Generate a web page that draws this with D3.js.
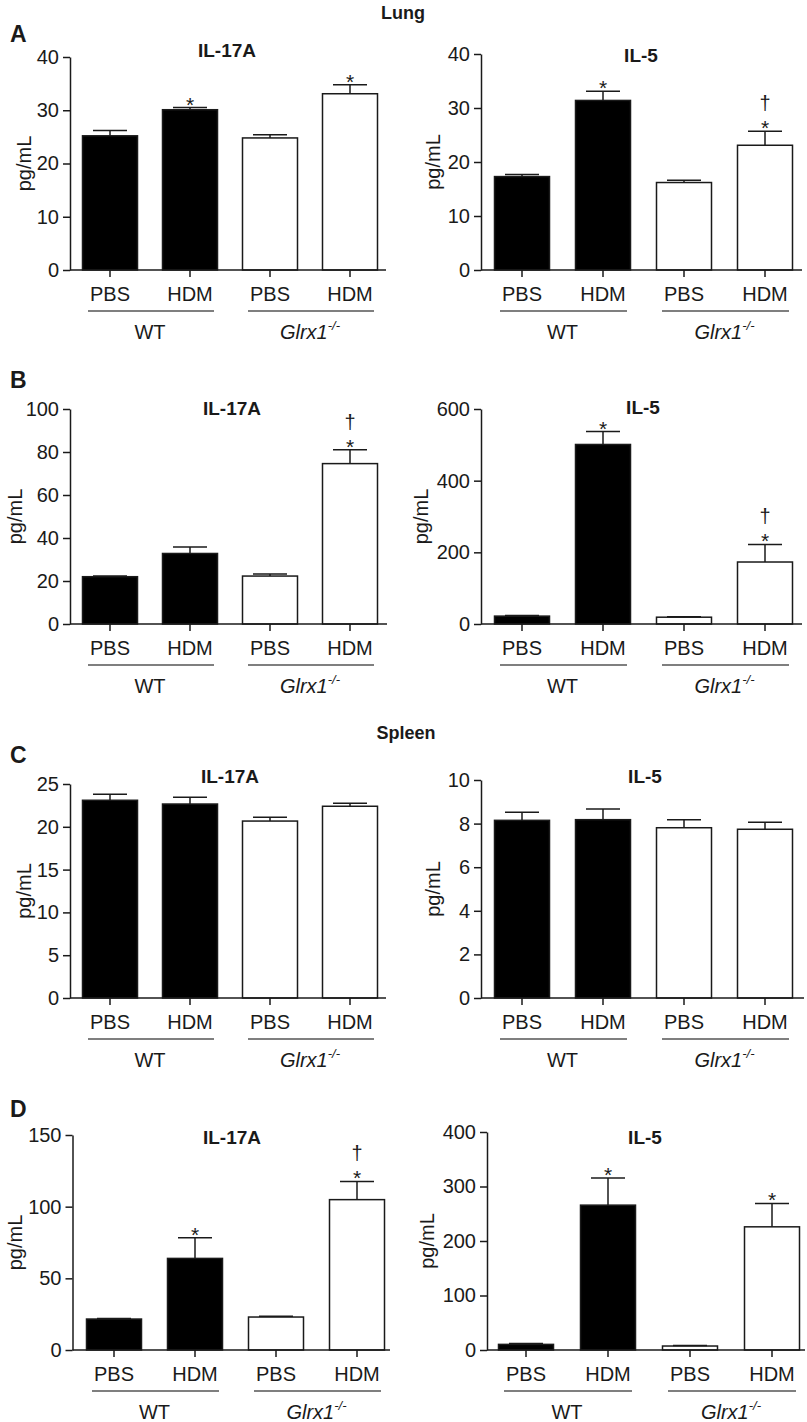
<!DOCTYPE html>
<html><head><meta charset="utf-8">
<script src="https://cdn.jsdelivr.net/npm/d3@7"></script>
<style>
body{margin:0;background:#fff}
svg{display:block;font-family:"Liberation Sans",Arial,Helvetica,sans-serif}
</style>
</head><body>
<svg id="c" width="807" height="1422"></svg>
<script>
// ---------- data ----------
const categories = ["PBS", "HDM", "PBS", "HDM"];
const genotypes = ["WT", "Glrx1"];
const barFill = ["#000", "#000", "#fff", "#fff"];

// A: Lung
const lungIL17A = [25.2, 30.1, 24.8, 33.1];
const lungIL17A_sem = [1.0, 0.4, 0.6, 1.7];
const lungIL17A_sig = ["", "*", "", "*"];
const lungIL5 = [17.3, 31.4, 16.2, 23.1];
const lungIL5_sem = [0.4, 1.7, 0.4, 2.6];
const lungIL5_sig = ["", "*", "", "*†"];
// B
const bIL17A = [22.0, 32.8, 22.3, 74.6];
const bIL17A_sem = [0.3, 3.0, 0.9, 6.4];
const bIL17A_sig = ["", "", "", "*†"];
const bIL5 = [22, 501, 19, 173];
const bIL5_sem = [1.5, 36, 1, 49];
const bIL5_sig = ["", "*", "", "*†"];
// C: Spleen
const spleenIL17A = [23.1, 22.66, 20.67, 22.4];
const spleenIL17A_sem = [0.7, 0.8, 0.45, 0.35];
const spleenIL17A_sig = ["", "", "", ""];
const spleenIL5 = [8.15, 8.18, 7.81, 7.74];
const spleenIL5_sem = [0.37, 0.49, 0.37, 0.32];
const spleenIL5_sig = ["", "", "", ""];
// D
const dIL17A = [21.6, 63.9, 23.0, 104.9];
const dIL17A_sem = [0.4, 14.4, 0.5, 12.7];
const dIL17A_sig = ["", "*", "", "*†"];
const dIL5 = [10.3, 265.8, 7.3, 226];
const dIL5_sem = [1.7, 50, 0.8, 43];
const dIL5_sig = ["", "*", "", "*"];

// tick labels
const ticksA = [0, 10, 20, 30, 40];
const ticksBL = [0, 20, 40, 60, 80, 100];
const ticksBR = [0, 200, 400, 600];
const ticksCL = [0, 5, 10, 15, 20, 25];
const ticksCR = [0, 2, 4, 6, 8, 10];
const ticksDL = [0, 50, 100, 150];
const ticksDR = [0, 100, 200, 300, 400];

// ---------- drawing ----------
const svg = d3.select("#c");
const INK = "#1a1a1a";
const FONT = "'Liberation Sans',Arial,Helvetica,sans-serif";

function panel(cfg) {
  const g = svg.append("g");
  const y = d3.scaleLinear().domain([0, cfg.ticks[cfg.ticks.length - 1]]).range([cfg.yZero, cfg.yTop]);
  const step = (cfg.xr[1] - cfg.xr[0]) / 4;
  const pi = 1 - 55 / step;
  const x = d3.scaleBand().domain(d3.range(4)).range(cfg.xr).paddingInner(pi).paddingOuter(pi / 2);
  const bw = x.bandwidth();
  const cx = i => x(i) + bw / 2;

  // bars
  g.selectAll("rect.bar").data(cfg.values).join("rect")
    .attr("x", (d, i) => x(i)).attr("width", bw)
    .attr("y", d => y(d)).attr("height", d => y(0) - y(d))
    .attr("fill", (d, i) => barFill[i]).attr("stroke", INK).attr("stroke-width", 1.5);

  // error bars
  const capW = 34;
  cfg.values.forEach((v, i) => {
    const top = y(v + cfg.sem[i]);
    g.append("line").attr("x1", cx(i)).attr("x2", cx(i)).attr("y1", y(v)).attr("y2", top)
      .attr("stroke", INK).attr("stroke-width", 1.5);
    g.append("line").attr("x1", cx(i) - capW / 2).attr("x2", cx(i) + capW / 2).attr("y1", top).attr("y2", top)
      .attr("stroke", INK).attr("stroke-width", 1.5);
    const s = cfg.sig[i];
    if (s.includes("*")) {
      g.append("text").attr("x", cx(i)).attr("y", top + 4).attr("text-anchor", "middle")
        .attr("font-size", 21).attr("fill", INK).text("*");
    }
    if (s.includes("†")) {
      g.append("text").attr("x", cx(i)).attr("y", top - 21).attr("text-anchor", "middle")
        .attr("font-size", 20).attr("fill", INK).text("†");
    }
  });

  // y axis
  const ya = g.append("g").attr("transform", `translate(${cfg.x0},0)`)
    .call(d3.axisLeft(y).tickValues(cfg.ticks).tickSize(7).tickSizeOuter(0).tickPadding(4));
  ya.select(".domain").attr("stroke", INK).attr("stroke-width", 1.5);
  ya.selectAll(".tick line").attr("stroke", INK).attr("stroke-width", 1.5);
  ya.selectAll(".tick text").attr("font-size", 20).attr("fill", INK).attr("font-family", FONT);

  // x axis
  g.append("line").attr("x1", cfg.x0).attr("x2", cfg.xEnd).attr("y1", cfg.yZero).attr("y2", cfg.yZero)
    .attr("stroke", INK).attr("stroke-width", 1.5);
  const xa = g.append("g").attr("transform", `translate(0,${cfg.yZero})`)
    .call(d3.axisBottom(x).tickSize(7).tickPadding(10).tickFormat(i => categories[i]));
  xa.select(".domain").remove();
  xa.selectAll(".tick line").attr("stroke", INK).attr("stroke-width", 1.5);
  xa.selectAll(".tick text").attr("font-size", 20).attr("fill", INK).attr("font-family", FONT);

  // group underlines and labels
  const uy = cfg.yZero + 41;
  [[0, 1], [2, 3]].forEach((p, k) => {
    g.append("line").attr("x1", cx(p[0]) - 22).attr("x2", cx(p[1]) + 24).attr("y1", uy).attr("y2", uy)
      .attr("stroke", "#555").attr("stroke-width", 1.6);
    const mid = (cx(p[0]) + cx(p[1])) / 2;
    const t = g.append("text").attr("x", mid).attr("y", cfg.yZero + 69).attr("text-anchor", "middle")
      .attr("font-size", 20).attr("fill", INK);
    if (k === 0) t.text(genotypes[0]);
    else {
      t.append("tspan").attr("font-style", "italic").text(genotypes[1]);
      t.append("tspan").attr("font-style", "italic").attr("font-size", 13).attr("dy", -9).text("-/-");
    }
  });

  // y label
  g.append("text").attr("transform", `translate(${cfg.ylabX},${(cfg.yTop + cfg.yZero) / 2}) rotate(-90)`)
    .attr("text-anchor", "middle").attr("font-size", 20).attr("fill", INK).text("pg/mL");

  // title
  g.append("text").attr("x", cfg.titleX).attr("y", cfg.titleY).attr("text-anchor", "middle")
    .attr("font-size", 19).attr("font-weight", "bold").attr("fill", INK).text(cfg.title);
}

function label(txt, xp, yp, size, anchor) {
  svg.append("text").attr("x", xp).attr("y", yp).attr("font-size", size).attr("font-weight", "bold")
    .attr("text-anchor", anchor || "start").attr("fill", INK).text(txt);
}

label("Lung", 403, 19, 18, "middle");
label("Spleen", 406, 739, 18, "middle");
label("A", 10, 42, 23);
label("B", 10, 388, 23);
label("C", 10, 763, 23);
label("D", 10, 1117, 23);

panel({x0: 70, xr: [70, 390], xEnd: 386, yTop: 57, yZero: 270, ticks: ticksA,
  values: lungIL17A, sem: lungIL17A_sem, sig: lungIL17A_sig, title: "IL-17A", titleX: 227, titleY: 57, ylabX: 31});
panel({x0: 481, xr: [481.5, 805.5], xEnd: 802, yTop: 54, yZero: 270, ticks: ticksA,
  values: lungIL5, sem: lungIL5_sem, sig: lungIL5_sig, title: "IL-5", titleX: 641, titleY: 62, ylabX: 440});

panel({x0: 70, xr: [70, 390], xEnd: 387, yTop: 409, yZero: 624, ticks: ticksBL,
  values: bIL17A, sem: bIL17A_sem, sig: bIL17A_sig, title: "IL-17A", titleX: 232, titleY: 415, ylabX: 22});
panel({x0: 481, xr: [481.5, 805.5], xEnd: 802, yTop: 409, yZero: 624, ticks: ticksBR,
  values: bIL5, sem: bIL5_sem, sig: bIL5_sig, title: "IL-5", titleX: 643, titleY: 414, ylabX: 428});

panel({x0: 70, xr: [70, 390], xEnd: 386, yTop: 784, yZero: 998, ticks: ticksCL,
  values: spleenIL17A, sem: spleenIL17A_sem, sig: spleenIL17A_sig, title: "IL-17A", titleX: 230, titleY: 783, ylabX: 31});
panel({x0: 481, xr: [481.5, 805.5], xEnd: 804, yTop: 780, yZero: 998, ticks: ticksCR,
  values: spleenIL5, sem: spleenIL5_sem, sig: spleenIL5_sig, title: "IL-5", titleX: 645, titleY: 783, ylabX: 440});

panel({x0: 72.5, xr: [73.5, 397.5], xEnd: 390, yTop: 1135, yZero: 1350, ticks: ticksDL,
  values: dIL17A, sem: dIL17A_sem, sig: dIL17A_sig, title: "IL-17A", titleX: 232, titleY: 1144, ylabX: 22});
panel({x0: 487, xr: [485, 813], xEnd: 805, yTop: 1132, yZero: 1350, ticks: ticksDR,
  values: dIL5, sem: dIL5_sem, sig: dIL5_sig, title: "IL-5", titleX: 645, titleY: 1144, ylabX: 434});
</script>
</body></html>
